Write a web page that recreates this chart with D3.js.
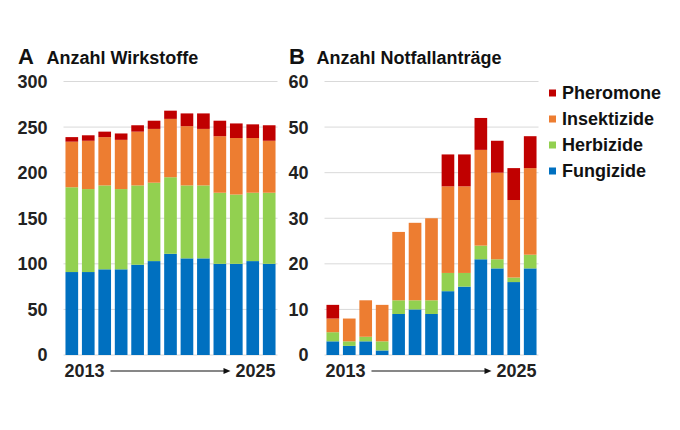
<!DOCTYPE html>
<html>
<head>
<meta charset="utf-8">
<script src="https://cdn.jsdelivr.net/npm/d3@7"></script>
<style>
  body { margin: 0; background: #fff; }
  svg { font-family: "Liberation Sans", Arial, sans-serif; font-weight: bold; }
</style>
</head>
<body>
<div id="chart"></div>
<script>
// years 2013..2025, one bar each
var years = d3.range(2013, 2026);
var series = ["Fungizide", "Herbizide", "Insektizide", "Pheromone"];
var colors = ["#0070c0", "#92d050", "#ed7d31", "#c00000"];

// A: Anzahl Wirkstoffe
var wirkFungizide   = [91, 91, 94, 94, 99, 103, 111, 106, 106, 100, 100, 103, 100];
var wirkHerbizide   = [93, 91, 92, 88, 87, 86, 84, 80, 80, 78, 76, 75, 78];
var wirkInsektizide = [50, 53, 53, 54, 59, 59, 64, 65, 62, 62, 62, 60, 57];
var wirkPheromone   = [5, 6, 6, 7, 7, 9, 9, 14, 17, 17, 16, 15, 17];

// B: Anzahl Notfallanträge
var notFungizide   = [3, 2, 3, 1, 9, 10, 9, 14, 15, 21, 19, 16, 19];
var notHerbizide   = [2, 1, 1, 2, 3, 2, 3, 4, 3, 3, 2, 1, 3];
var notInsektizide = [3, 5, 8, 8, 15, 17, 18, 19, 19, 21, 19, 17, 19];
var notPheromone   = [3, 0, 0, 0, 0, 0, 0, 7, 7, 7, 7, 7, 7];

var ticksA = [0, 50, 100, 150, 200, 250, 300];
var ticksB = [0, 10, 20, 30, 40, 50, 60];

var dim = { width: 680, height: 430 };
var svg = d3.select("#chart").append("svg")
    .attr("width", dim.width)
    .attr("height", dim.height);

function toRows(f, h, i, p) {
    return years.map((y, k) => ({
        year: y, Fungizide: f[k], Herbizide: h[k], Insektizide: i[k], Pheromone: p[k]
    }));
}

function panel(opt) {
    var g = svg.append("g");
    var x = d3.scaleBand().domain(years).range(opt.xr).paddingInner(0.23).paddingOuter(0.12);
    var y = d3.scaleLinear().domain([0, opt.max]).range([355, 81.5]);

    // gridlines
    g.append("g").selectAll("line")
        .data(opt.ticks).enter().append("line")
        .attr("x1", opt.xr[0]).attr("x2", opt.xr[1])
        .attr("y1", d => y(d)).attr("y2", d => y(d))
        .attr("stroke", "#d9d9d9").attr("stroke-width", 1);

    // tick labels
    g.append("g").selectAll("text")
        .data(opt.ticks).enter().append("text")
        .attr("x", opt.xr[0] - 16)
        .attr("y", d => y(d))
        .attr("dy", "0.36em")
        .attr("text-anchor", "end")
        .attr("font-size", 18)
        .attr("fill", "#222")
        .text(d => d);

    var stack = d3.stack().keys(series)(opt.rows);
    g.append("g").selectAll("g")
        .data(stack).enter().append("g")
        .attr("fill", (d, i) => colors[i])
        .selectAll("rect")
        .data(d => d).enter().append("rect")
        .attr("x", d => x(d.data.year))
        .attr("width", x.bandwidth())
        .attr("y", d => y(d[1]))
        .attr("height", d => y(d[0]) - y(d[1]));

    // titles
    g.append("text")
        .attr("x", opt.letterX).attr("y", 64)
        .attr("font-size", 22).attr("fill", "#111")
        .text(opt.letter);
    g.append("text")
        .attr("x", opt.titleX).attr("y", 63.5)
        .attr("font-size", 18).attr("fill", "#111")
        .text(opt.title);

    // x labels with arrow
    var x0 = x(years[0]), x1 = x(years[years.length - 1]) + x.bandwidth();
    g.append("text")
        .attr("x", x0 - 1).attr("y", 377)
        .attr("font-size", 18).attr("fill", "#222")
        .text(years[0]);
    g.append("text")
        .attr("x", x1).attr("y", 377)
        .attr("text-anchor", "end")
        .attr("font-size", 18).attr("fill", "#222")
        .text(years[years.length - 1]);
    g.append("line")
        .attr("x1", x0 + 45).attr("x2", x1 - 50)
        .attr("y1", 371).attr("y2", 371)
        .attr("stroke", "#111").attr("stroke-width", 1.2);
    g.append("path")
        .attr("d", d3.line()([[x1 - 52, 368], [x1 - 45, 371], [x1 - 52, 374]]))
        .attr("fill", "#111");
}

panel({ letter: "A", title: "Anzahl Wirkstoffe", letterX: 18, titleX: 46.5,
        xr: [63.5, 277.5], max: 300, ticks: ticksA,
        rows: toRows(wirkFungizide, wirkHerbizide, wirkInsektizide, wirkPheromone) });
panel({ letter: "B", title: "Anzahl Notfallanträge", letterX: 289, titleX: 316.5,
        xr: [324.5, 538.5], max: 60, ticks: ticksB,
        rows: toRows(notFungizide, notHerbizide, notInsektizide, notPheromone) });

// legend, top entry first
var legendItems = series.slice().reverse();
var legend = svg.append("g").attr("transform", "translate(549,93)");
var li = legend.selectAll("g")
    .data(legendItems).enter().append("g")
    .attr("transform", (d, i) => `translate(0,${i * 26})`);
li.append("rect")
    .attr("x", 0).attr("y", -3.5)
    .attr("width", 7).attr("height", 7)
    .attr("fill", d => colors[series.indexOf(d)]);
li.append("text")
    .attr("x", 13).attr("dy", "0.36em")
    .attr("font-size", 18).attr("fill", "#111")
    .text(d => d);
</script>
</body>
</html>
